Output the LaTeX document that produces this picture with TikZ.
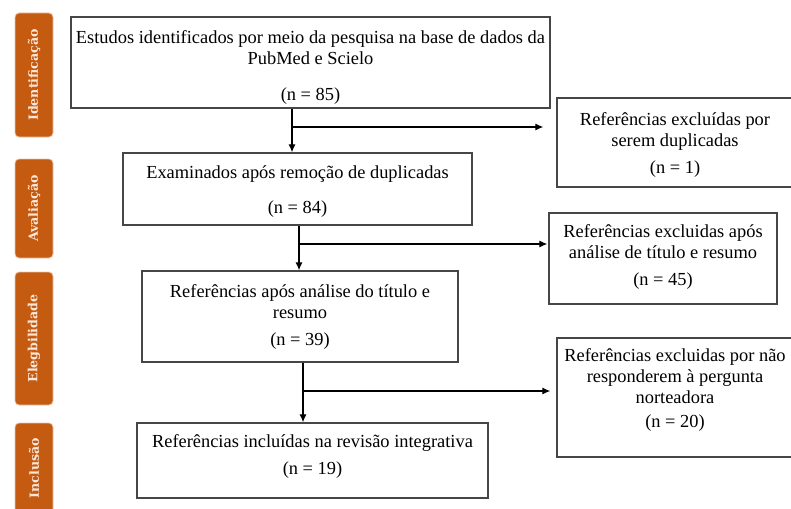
\documentclass[tikz,border=0pt]{standalone}
\usepackage{fontspec}
\setmainfont{Liberation Serif}
\newfontfamily\sidefont{DejaVu Serif}
\usetikzlibrary{positioning,arrows.meta}

\definecolor{sidebar}{RGB}{197,90,17}
\definecolor{sidetext}{RGB}{252,232,218}
\definecolor{boxline}{RGB}{70,70,70}

\begin{document}
\begin{tikzpicture}[x=1pt,y=-1pt,
	box/.style={draw=boxline,line width=1.3pt,rectangle,inner sep=0pt},
	txt/.style={align=center,inner sep=0pt,font=\fontsize{18.4}{21}\selectfont},
	stage/.style={rectangle,rotate=90,rounded corners=4pt,fill=sidebar,draw=sidebar!35!white,line width=0.8pt,minimum height=38pt,inner sep=0pt,text=sidetext,font=\sidefont\bfseries\fontsize{12.6}{14}\selectfont},
	flow/.style={line width=1.2pt,-{Latex[length=8pt,width=7pt]}}]

%page frame
\useasboundingbox (0,0) rectangle (791,508);

% Stages on the left
\node[stage,minimum width=124pt] (ident) at (34,75) {Identificação};
\node[stage,minimum width=99pt] (aval) at (34,208.5) {Avaliação};
\node[stage,minimum width=133pt] (eleg) at (34,338.5) {Elegbilidade};
\node[stage,minimum width=90pt] (incl) at (34,468) {Inclusão};

%Main boxes
\node[box,minimum width=479pt,minimum height=91pt] (b1) at (310.5,62.5) {};
\node[txt,below=14pt of b1.north] (b1t) {Estudos identificados por meio da pesquisa na base de dados da\\ PubMed e Scielo\\[15pt] (n = 85)};

\node[box,minimum width=349pt,minimum height=72pt] (b2) at (297.5,189) {};
\node[txt,below=13pt of b2.north] (b2t) {Examinados após remoção de duplicadas\\[14pt] (n = 84)};

\node[box,minimum width=316pt,minimum height=91pt] (b3) at (300,316.5) {};
\node[txt,below=14pt of b3.north] (b3t) {Referências após análise do título e\\ resumo\\[6pt] (n = 39)};

\node[box,minimum width=351pt,minimum height=75pt] (b4) at (312.5,460.5) {};
\node[txt,below=12pt of b4.north] (b4t) {Referências incluídas na revisão integrativa\\[6pt] (n = 19)};

%Excluded boxes on the right
\node[box,minimum width=236pt,minimum height=89pt] (e1) at (675,142.5) {};
\node[txt,below=15pt of e1.north] (e1t) {Referências excluídas por\\ serem duplicadas\\[6pt] (n = 1)};

\node[box,minimum width=228pt,minimum height=91pt] (e2) at (663,258.5) {};
\node[txt,below=12pt of e2.north] (e2t) {Referências excluidas após\\ análise de título e resumo\\[6pt] (n = 45)};

\node[box,minimum width=236pt,minimum height=119pt] (e3) at (675,397.5) {};
\node[txt,below=11pt of e3.north] (e3t) {Referências excluidas por não\\ responderem à pergunta\\ norteadora\\[3pt] (n = 20)};

%Junctions
\coordinate (j1) at (292,127);
\coordinate (j2) at (299,244);
\coordinate (j3) at (303,391);

%Arrows
\draw[flow] (b1.south -| j1) -- (b2.north -| j1);
\draw[flow,shorten >=13pt] (j1) -- (j1 -| e1.west);
\draw[flow] (b2.south -| j2) -- (b3.north -| j2);
\draw[flow,shorten >=1pt] (j2) -- (j2 -| e2.west);
\draw[flow] (b3.south -| j3) -- (b4.north -| j3);
\draw[flow,shorten >=6pt] (j3) -- (j3 -| e3.west);

\end{tikzpicture}
\end{document}
